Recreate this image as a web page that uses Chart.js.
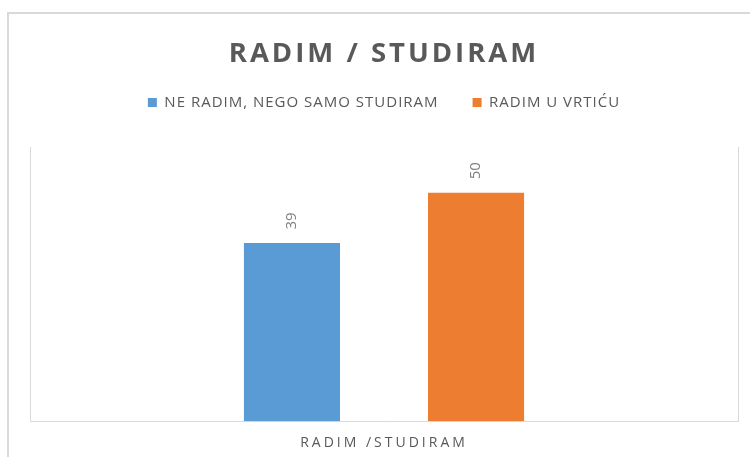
<!DOCTYPE html>
<html>
<head>
<meta charset="utf-8">
<script src="https://cdn.jsdelivr.net/npm/chart.js@4"></script>
<style>
  html, body { margin: 0; padding: 0; background: #fff; }
  #wrap { position: relative; width: 750px; height: 457px; overflow: hidden; }
  #frame { position: absolute; left: 7px; top: 12px; width: 800px; height: 500px;
           border-left: 2px solid #d9d9d9; border-top: 2px solid #d9d9d9; }
  canvas { position: absolute; left: 0; top: 0; }
</style>
</head>
<body>
<div id="wrap">
  <div id="frame"></div>
  <canvas id="chart" width="750" height="457"></canvas>
</div>
<script>
// podaci
const chartTitle = 'RADIM / STUDIRAM';
const categories = ['RADIM /STUDIRAM'];
const seriesNames = ['NE RADIM, NEGO SAMO STUDIRAM', 'RADIM U VRTIĆU'];
const seriesValues = [[39], [50]];
const yMin = 0;
const yMax = 60;

const seriesColors = ['#5B9BD5', '#ED7D31'];

// razmak slova + brojke iznad stupaca
const labelsPlugin = {
  id: 'labelsPlugin',
  afterInit(chart) {
    // naslov crtamo poslije stupaca da dobije veći razmak slova
    const t = chart.titleBlock;
    if (t) t._layers = () => [{ z: 1, draw(area) { t.draw(area); } }];
  },
  beforeLayout(chart) { chart.ctx.letterSpacing = '1px'; },
  beforeDraw(chart) { chart.ctx.letterSpacing = '1px'; },
  afterDatasetsDraw(chart) {
    const ctx = chart.ctx;
    ctx.save();
    ctx.letterSpacing = '0px';
    ctx.font = '15px "Open Sans"';
    ctx.fillStyle = '#7f7f7f';
    ctx.textAlign = 'center';
    ctx.textBaseline = 'middle';
    chart.data.datasets.forEach((ds, i) => {
      chart.getDatasetMeta(i).data.forEach((bar, j) => {
        ctx.save();
        ctx.translate(bar.x, bar.y - 22);
        ctx.rotate(-Math.PI / 2);
        ctx.fillText(String(ds.data[j]), 0, 0);
        ctx.restore();
      });
    });
    ctx.restore();
    ctx.letterSpacing = '3px'; // naslov i natpis osi x (z: 1)
  }
};

const data = {
  labels: categories,
  datasets: seriesNames.map((name, i) => ({
    label: name,
    data: seriesValues[i],
    backgroundColor: seriesColors[i],
    borderWidth: 0,
    categoryPercentage: 0.52,
    barPercentage: 0.522
  }))
};

new Chart(document.getElementById('chart'), {
  type: 'bar',
  data: data,
  plugins: [labelsPlugin],
  options: {
    responsive: false,
    animation: false,
    layout: { padding: { left: 30, right: 12, top: 0, bottom: -7 } },
    plugins: {
      title: {
        display: true,
        text: chartTitle,
        color: '#595959',
        font: { family: 'Open Sans', size: 27.5, weight: 'bold', lineHeight: 1 },
        padding: { top: 40, bottom: -6.5 }
      },
      subtitle: {
        // prazan razmak između legende i područja grafa
        display: true,
        text: '',
        weight: 500,
        font: { size: 27, lineHeight: 1 },
        padding: 0
      },
      legend: {
        position: 'top',
        labels: {
          boxWidth: 9,
          boxHeight: 9,
          padding: 34,
          color: '#595959',
          font: { family: 'Open Sans', size: 15 }
        }
      },
      tooltip: { enabled: false }
    },
    scales: {
      x: {
        grid: { color: '#d9d9d9', drawTicks: false, offset: true },
        border: { color: '#d9d9d9' },
        ticks: { color: '#595959', font: { family: 'Open Sans', size: 14 }, padding: 13, z: 1 }
      },
      y: { display: false, min: yMin, max: yMax }
    }
  }
});
</script>
</body>
</html>
